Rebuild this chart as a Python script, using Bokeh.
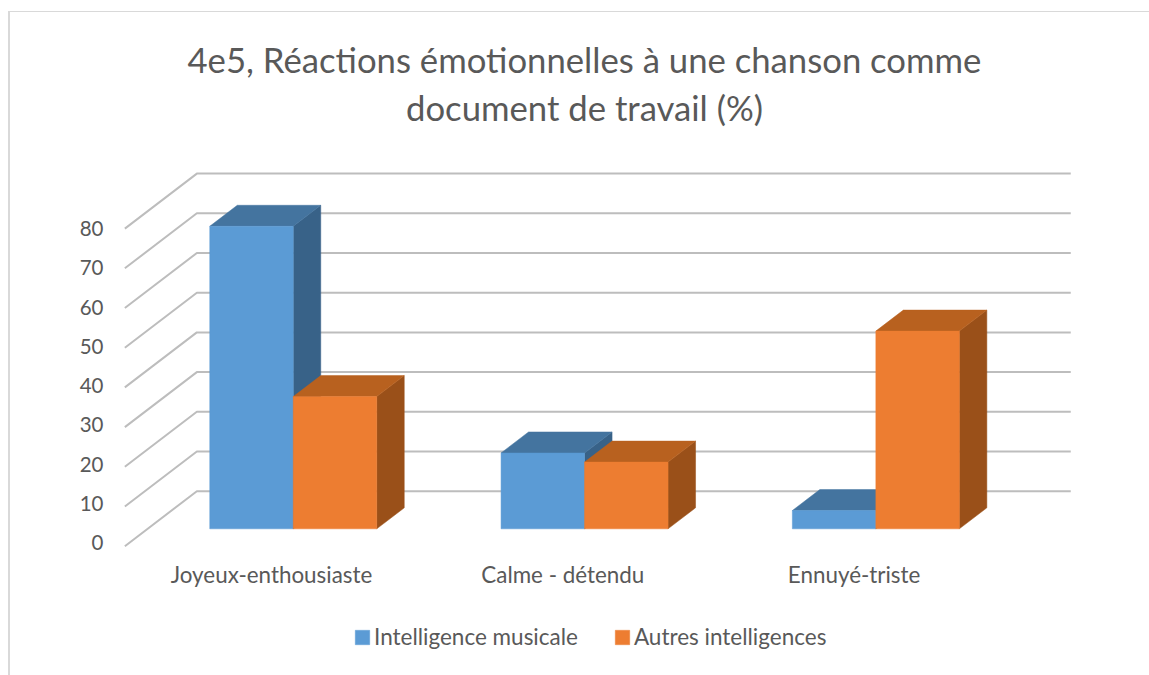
from bokeh.plotting import figure
from bokeh.models import (Range1d, LinearAxis, FixedTicker, Legend, LegendItem, Title)
from bokeh.core.properties import value
from bokeh.embed import file_html
from bokeh.resources import INLINE

# ---- data
categories = ["Joyeux-enthousiaste", "Calme - détendu", "Ennuyé-triste"]
musicale = [76.2, 19.1, 4.6]
autres = [33.3, 16.8, 49.8]
y_ticks = [0, 10, 20, 30, 40, 50, 60, 70, 80]
series_names = ["Intelligence musicale", "Autres intelligences"]
title_lines = ["4e5, Réactions émotionnelles à une chanson comme", "document de travail (%)"]

# ---- styles / layout (pixel positions on the page)
FIG_X, FIG_Y = 8, 11                # outer corner of the chart area
BORDER_L, BORDER_T = 2, 1
W, H = 1141, 664
ORG_X, ORG_Y = FIG_X + BORDER_L, FIG_Y + BORDER_T
FRAME_L, FRAME_T, FRAME_B, FRAME_R = 111, 86, 665, 1071
PX_PER_CAT, PX_CAT0 = 291.3, 270.0
PX_PER_UNIT, PX_ZERO = 3.97, 545.7
LAB_PER_UNIT, LAB_ZERO = 3.925, 542.2
CAT_LABEL_Y, CAT_LABEL_DX = 574, 1.0
TITLE2_X, TITLE2_Y = 584.0, 107
DEPTH_PX_X, DEPTH_PX_Y = 72.0, 55.0
BAR_W = 0.2866
BAR_D0, BAR_D1 = 0.316, 0.698
TXT = "#595959"
FONT = "Lato"
TITLE_SIZE = "34.7px"

p = figure(width=W, height=H, output_backend="svg", toolbar_location=None,
           x_axis_type=None, y_axis_type=None, margin=(FIG_Y, 0, 0, FIG_X),
           x_range=Range1d((FRAME_L - PX_CAT0) / PX_PER_CAT, (FRAME_R - PX_CAT0) / PX_PER_CAT),
           y_range=Range1d((PX_ZERO - FRAME_B) / PX_PER_UNIT, (PX_ZERO - FRAME_T) / PX_PER_UNIT),
           min_border_left=FRAME_L - ORG_X, min_border_right=ORG_X + W - FRAME_R,
           min_border_top=FRAME_T - ORG_Y, min_border_bottom=ORG_Y + H - FRAME_B,
           background_fill_color=None, border_fill_color="white", outline_line_color=None)
p.grid.visible = False
p.extra_y_ranges = {"labels": Range1d((LAB_ZERO - FRAME_B) / LAB_PER_UNIT, (LAB_ZERO - FRAME_T) / LAB_PER_UNIT)}

DX = DEPTH_PX_X / PX_PER_CAT      # oblique projection of depth, in data units
DY = DEPTH_PX_Y / PX_PER_UNIT


def proj(x, v, d):
    return x + d * DX, v + d * DY


# ---- floor-to-wall grid
xs, ys = [], []
for v in y_ticks:
    a = proj(-0.5, v, 0)
    b = proj(-0.5, v, 1)
    c = proj(2.5, v, 1)
    xs.append([a[0], b[0], c[0]])
    ys.append([a[1], b[1], c[1]])
p.multi_line(xs, ys, line_color="#bdbdbd", line_width=2)


# ---- 3D bars
def bars(values, offset, front, top, side):
    fl, fr, fb, ft = [], [], [], []
    sx, sy, tx, ty = [], [], [], []
    for i, v in enumerate(values):
        x0 = i + offset
        x1 = x0 + BAR_W
        p00 = proj(x0, v, BAR_D0)
        p10 = proj(x1, v, BAR_D0)
        p11 = proj(x1, v, BAR_D1)
        p01 = proj(x0, v, BAR_D1)
        b10 = proj(x1, 0, BAR_D0)
        b11 = proj(x1, 0, BAR_D1)
        tx.append([p00[0], p10[0], p11[0], p01[0]])
        ty.append([p00[1], p10[1], p11[1], p01[1]])
        sx.append([b10[0], p10[0], p11[0], b11[0]])
        sy.append([b10[1], p10[1], p11[1], b11[1]])
        fl.append(p00[0]); fr.append(p10[0]); ft.append(p00[1]); fb.append(b10[1])
    p.patches(sx, sy, fill_color=side, line_color=side, line_width=0.5)
    p.patches(tx, ty, fill_color=top, line_color=top, line_width=0.5)
    return p.quad(left=fl, right=fr, bottom=fb, top=ft, fill_color=front, line_color=front, line_width=0.5)


r1 = bars(musicale, -BAR_W, "#5B9BD5", "#44749F", "#386288")
r2 = bars(autres, 0, "#ED7D31", "#B8611F", "#9A5019")

# ---- value axis
yaxis = LinearAxis(ticker=FixedTicker(ticks=y_ticks), axis_line_color=None, y_range_name="labels",
                   major_tick_line_color=None, minor_tick_line_color=None,
                   major_label_standoff=2, major_label_text_font=FONT,
                   major_label_text_font_size="20.5px", major_label_text_color=TXT)
p.add_layout(yaxis, "left")

# ---- category labels, on the floor's front edge
cat_y = (PX_ZERO - CAT_LABEL_Y) / PX_PER_UNIT
p.text(x=[i + CAT_LABEL_DX / PX_PER_CAT for i in range(len(categories))], y=[cat_y] * len(categories),
       text=categories, text_font=value(FONT), text_font_size="22.4px", text_color=TXT,
       text_align="center", text_baseline="middle")

# ---- legend
legend = Legend(items=[LegendItem(label=series_names[0], renderers=[r1]),
                       LegendItem(label=series_names[1], renderers=[r2])],
                orientation="horizontal", location=(353 - FRAME_L, FRAME_B - 650),
                glyph_width=18, glyph_height=18, label_standoff=3, spacing=35,
                label_text_font=FONT, label_text_font_size="22.5px", label_text_color=TXT,
                border_line_color=None, background_fill_color=None, margin=0, padding=0)
p.add_layout(legend)

# ---- title: first line as the plot title, second line just under it
p.add_layout(Title(text=title_lines[0], text_font=FONT, text_font_size=TITLE_SIZE, text_font_style="normal",
                   text_color=TXT, align="left", offset=187 - FRAME_L, standoff=14, text_line_height=1.0), "above")
p.text(x=[(TITLE2_X - PX_CAT0) / PX_PER_CAT], y=[(PX_ZERO - TITLE2_Y) / PX_PER_UNIT], text=[title_lines[1]],
       text_font=value(FONT), text_font_size=TITLE_SIZE, text_color=TXT,
       text_align="center", text_baseline="middle")

# ---- chart-area frame (top and left edges)
p.styles = {"border-top": f"{BORDER_T}px solid #d9d9d9", "border-left": f"{BORDER_L}px solid #d9d9d9",
            "box-sizing": "border-box"}

open("out.html", "w").write(file_html(p, INLINE))
